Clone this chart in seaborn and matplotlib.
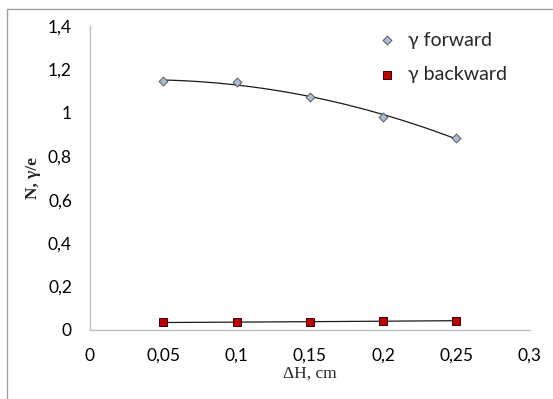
import numpy as np
import pandas as pd
import matplotlib.pyplot as plt
import seaborn as sns
from matplotlib.patches import Rectangle

# values
dh = [0.05, 0.10, 0.15, 0.20, 0.25]
gamma_forward = [1.145, 1.14, 1.075, 0.98, 0.885]
gamma_backward = [0.035, 0.035, 0.038, 0.042, 0.042]
x_ticks = [0, 0.05, 0.1, 0.15, 0.2, 0.25, 0.3]
y_ticks = [0, 0.2, 0.4, 0.6, 0.8, 1.0, 1.2, 1.4]

df = pd.DataFrame({'dh': dh, 'forward': gamma_forward, 'backward': gamma_backward})

sns.set_style('white')
plt.rcParams['font.family'] = ['Lato', 'DejaVu Sans']

fig = plt.figure(figsize=(5.53, 3.99), dpi=100)
ax = fig.add_axes([0.1627, 0.173, 0.7953, 0.762])

# outer chart frame like the spreadsheet export
fig.patches.append(Rectangle((7 / 553, -0.1), 1.2, 1 - 9 / 399 + 0.1,
                             transform=fig.transFigure, fill=False,
                             edgecolor='#a0a0a0', linewidth=1.0))

# polynomial trend lines (2nd order, like the spreadsheet trendline)
xs = np.linspace(min(dh), max(dh), 100)
for col in ['forward', 'backward']:
    coef = np.polyfit(df['dh'], df[col], 2)
    ax.plot(xs, np.polyval(coef, xs), color='#1a1a1a', linewidth=0.9, zorder=2)

sns.scatterplot(data=df, x='dh', y='forward', marker='D', s=20, color='#a9bcd6',
                edgecolor='#5a5a5a', linewidth=0.7, label='\u03b3 forward', ax=ax, zorder=3)
sns.scatterplot(data=df, x='dh', y='backward', marker='s', s=36, color='#c00000',
                edgecolor='#3a0000', linewidth=0.7, label='\u03b3 backward', ax=ax, zorder=3)

ax.set_xlim(0, 0.3)
ax.set_ylim(0, 1.4)
ax.set_xticks(x_ticks)
ax.set_yticks(y_ticks)
ax.set_xticklabels([('%g' % v).replace('.', ',') for v in x_ticks])
ax.set_yticklabels([('%g' % v).replace('.', ',') for v in y_ticks])
ax.tick_params(axis='both', labelsize=12.5, colors='#000000')
ax.tick_params(axis='x', direction='out', length=4, color='#bfbfbf', pad=9)
ax.tick_params(axis='y', direction='out', length=5, color='#bfbfbf', pad=8)

for side in ['top', 'right']:
    ax.spines[side].set_visible(False)
for side in ['left', 'bottom']:
    ax.spines[side].set_color('#bfbfbf')
    ax.spines[side].set_linewidth(1.0)

ax.set_xlabel('\u0394H, cm', family=['Liberation Serif'], fontsize=12.5, labelpad=1)
ax.set_ylabel('N, \u03b3/e', family=['Liberation Serif'], fontsize=12.5,
              fontweight='bold', labelpad=5)

leg = ax.legend(loc='upper right', bbox_to_anchor=(0.975, 1.02), frameon=False,
                fontsize=14, handletextpad=0.1, labelspacing=0.9, borderaxespad=0.2)

fig.savefig('out.png', dpi=100)
